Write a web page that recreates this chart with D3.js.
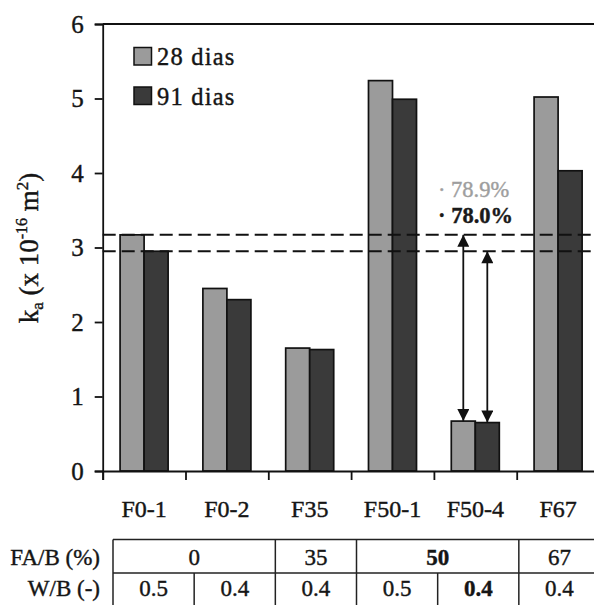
<!DOCTYPE html>
<html>
<head>
<meta charset="utf-8">
<script src="https://cdn.jsdelivr.net/npm/d3@7"></script>
<style>
  html, body { margin: 0; padding: 0; background: #fff; }
  svg text, svg tspan { font-family: "Liberation Serif", "Times New Roman", Tinos, "DejaVu Serif", serif !important; }
  svg text.thick { stroke: currentColor; stroke-width: 0.4px; }
</style>
</head>
<body>
<svg id="chart" width="594" height="605"></svg>
<script>
// ---- data ----
const categories = ["F0-1", "F0-2", "F35", "F50-1", "F50-4", "F67"];
const seriesNames = ["28 dias", "91 dias"];
const ka28 = [3.17, 2.45, 1.65, 5.24, 0.67, 5.02];
const ka91 = [2.95, 2.30, 1.63, 4.99, 0.65, 4.03];
const yTicks = [0, 1, 2, 3, 4, 5, 6];
const faLabels = ["0", "35", "50", "67"];
const faSpans = [2, 1, 2, 1];
const wbLabels = ["0.5", "0.4", "0.4", "0.5", "0.4", "0.4"];
const refIndex = 0;      // F0-1 reference
const targetIndex = 4;   // F50-4 highlighted

// ---- layout ----
const svg = d3.select("#chart");
const pLeft = 102.7, pRight = 599.5, pTop = 24, pBottom = 471;
const colors = ["#9b9b9b", "#3a3a3a"];
const values = [ka28, ka91];
const ink = "#151515";

const x0 = d3.scaleBand().domain(categories).range([pLeft, pRight])
  .paddingInner(0.42).paddingOuter(0.21);
const x1 = d3.scaleBand().domain(seriesNames).range([0, x0.bandwidth()]);
const y = d3.scaleLinear().domain([0, 6]).range([pBottom, pTop]);
const xb = d3.scaleLinear().domain([0, categories.length]).range([pLeft, pRight]);

// bars
categories.forEach((c, i) => {
  seriesNames.forEach((s, j) => {
    svg.append("rect")
      .attr("x", x0(c) + x1(s))
      .attr("y", y(values[j][i]))
      .attr("width", x1.bandwidth())
      .attr("height", y(0) - y(values[j][i]))
      .attr("fill", colors[j])
      .attr("stroke", "#111")
      .attr("stroke-width", 1.7);
  });
});

// frame
svg.append("line").attr("x1", pLeft).attr("x2", pRight).attr("y1", y(6)).attr("y2", y(6))
  .attr("stroke", "#111").attr("stroke-width", 1.8);
svg.append("line").attr("x1", pRight).attr("x2", pRight).attr("y1", y(6)).attr("y2", y(0))
  .attr("stroke", "#111").attr("stroke-width", 1.8);

// y axis
const yAxis = svg.append("g").attr("transform", `translate(${pLeft},0)`)
  .call(d3.axisLeft(y).tickValues(yTicks).tickSize(8).tickPadding(11).tickFormat(d3.format("d")));
yAxis.select(".domain").attr("stroke", "#111").attr("stroke-width", 1.8);
yAxis.selectAll(".tick line").attr("stroke", "#111").attr("stroke-width", 1.8);
yAxis.selectAll(".tick text").attr("font-size", 25).attr("fill", ink).style("color", ink).classed("thick", true);

// x axis: boundary ticks
const xAxis = svg.append("g").attr("transform", `translate(0,${pBottom})`)
  .call(d3.axisBottom(xb).tickValues(d3.range(0, categories.length)).tickSize(9).tickFormat(""));
xAxis.select(".domain").attr("stroke", "#111").attr("stroke-width", 1.8);
xAxis.selectAll(".tick line").attr("stroke", "#111").attr("stroke-width", 1.8);
// category labels
const xLab = svg.append("g").attr("transform", `translate(0,${pBottom})`)
  .call(d3.axisBottom(x0).tickSize(0).tickPadding(0));
xLab.select(".domain").remove();
xLab.selectAll(".tick text").attr("font-size", 24).attr("fill", ink).style("color", ink)
  .classed("thick", true).attr("y", 46).attr("dy", 0);

// reference dashed lines
[ka28[refIndex], ka91[refIndex]].forEach(v => {
  svg.append("line").attr("x1", pLeft).attr("x2", pRight).attr("y1", y(v)).attr("y2", y(v))
    .attr("stroke", "#111").attr("stroke-width", 2).attr("stroke-dasharray", "13,6");
});

// arrow markers
const defs = svg.append("defs");
defs.append("marker").attr("id", "ah").attr("viewBox", "0 0 10 10")
  .attr("refX", 10).attr("refY", 5).attr("markerWidth", 13).attr("markerHeight", 12)
  .attr("markerUnits", "userSpaceOnUse").attr("orient", "auto-start-reverse")
  .append("path").attr("d", "M0,0 L10,5 L0,10 Z").attr("fill", "#111");

const tc = categories[targetIndex];
seriesNames.forEach((s, j) => {
  const cx = x0(tc) + x1(s) + x1.bandwidth() / 2;
  svg.append("line").attr("x1", cx).attr("x2", cx)
    .attr("y1", y(values[j][refIndex])).attr("y2", y(values[j][targetIndex]))
    .attr("stroke", "#111").attr("stroke-width", 1.8)
    .attr("marker-start", "url(#ah)").attr("marker-end", "url(#ah)");
});

// percent labels
const pctFmt = d3.format(".1f");
const pctColors = ["#9e9e9e", "#1a1a1a"];
const pctWeights = ["normal", "bold"];
const pctY = [197, 223];
seriesNames.forEach((s, j) => {
  const red = (1 - values[j][targetIndex] / values[j][refIndex]) * 100;
  svg.append("text").attr("x", 438).attr("y", pctY[j])
    .attr("font-size", 22.5).attr("font-weight", pctWeights[j]).attr("fill", pctColors[j])
    .style("color", pctColors[j]).classed("thick", true)
    .text("· " + pctFmt(red) + "%");
});

// legend
const legY = [47.5, 87];
seriesNames.forEach((s, j) => {
  svg.append("rect").attr("x", 134).attr("y", legY[j]).attr("width", 17.5).attr("height", 17.5)
    .attr("fill", colors[j]).attr("stroke", "#111").attr("stroke-width", 1.5);
  svg.append("text").attr("x", 157).attr("y", legY[j] + 17.5)
    .attr("font-size", 24.5).attr("letter-spacing", "1.2px").attr("fill", ink).style("color", ink)
    .classed("thick", true).text(s);
});

// y-axis title
const yt = svg.append("text").attr("transform", "translate(38,248) rotate(-90)")
  .attr("text-anchor", "middle").attr("font-size", 27).attr("fill", ink).style("color", ink)
  .classed("thick", true);
yt.append("tspan").text("k");
yt.append("tspan").attr("font-size", 17).attr("dy", 5).text("a");
yt.append("tspan").attr("dy", -5).text(" (x 10");
yt.append("tspan").attr("font-size", 16).attr("dy", -11).text("-16");
yt.append("tspan").attr("dy", 11).text(" m");
yt.append("tspan").attr("font-size", 17).attr("dy", -10).text("2");
yt.append("tspan").attr("dy", 10).text(")");

// table
const tx = d3.scaleLinear().domain([0, categories.length]).range([113, 600]);
const rowTop = [539.5, 573], rowH = 33.5;
const tbl = svg.append("g");
const stroke = "#222";
[rowTop[0], rowTop[1], rowTop[1] + rowH].forEach(yy => {
  tbl.append("line").attr("x1", tx(0)).attr("x2", tx(6)).attr("y1", yy).attr("y2", yy)
    .attr("stroke", stroke).attr("stroke-width", 1.5);
});
let start = 0;
faLabels.forEach((lab, k) => {
  const end = start + faSpans[k];
  const containsTarget = targetIndex >= start && targetIndex < end;
  tbl.append("line").attr("x1", tx(start)).attr("x2", tx(start))
    .attr("y1", rowTop[0]).attr("y2", rowTop[0] + rowH).attr("stroke", stroke).attr("stroke-width", 1.5);
  tbl.append("text").attr("x", (tx(start) + tx(end)) / 2).attr("y", rowTop[0] + 25.5)
    .attr("text-anchor", "middle").attr("font-size", 23).style("color", ink).classed("thick", true)
    .attr("font-weight", containsTarget ? "bold" : "normal").attr("fill", ink).text(lab);
  start = end;
});
tbl.append("line").attr("x1", tx(6)).attr("x2", tx(6)).attr("y1", rowTop[0]).attr("y2", rowTop[0] + rowH)
  .attr("stroke", stroke).attr("stroke-width", 1.5);
wbLabels.forEach((lab, i) => {
  tbl.append("line").attr("x1", tx(i)).attr("x2", tx(i))
    .attr("y1", rowTop[1]).attr("y2", rowTop[1] + rowH).attr("stroke", stroke).attr("stroke-width", 1.5);
  tbl.append("text").attr("x", (tx(i) + tx(i + 1)) / 2).attr("y", rowTop[1] + 23)
    .attr("text-anchor", "middle").attr("font-size", 23).style("color", ink).classed("thick", true)
    .attr("font-weight", i === targetIndex ? "bold" : "normal").attr("fill", ink).text(lab);
});
const rowLabels = ["FA/B (%)", "W/B (-)"];
rowLabels.forEach((lab, r) => {
  tbl.append("text").attr("x", 100).attr("y", rowTop[r] + (r === 0 ? 25.5 : 23))
    .attr("text-anchor", "end").attr("font-size", 23).attr("fill", ink).style("color", ink)
    .classed("thick", true).text(lab);
});
</script>
</body>
</html>
